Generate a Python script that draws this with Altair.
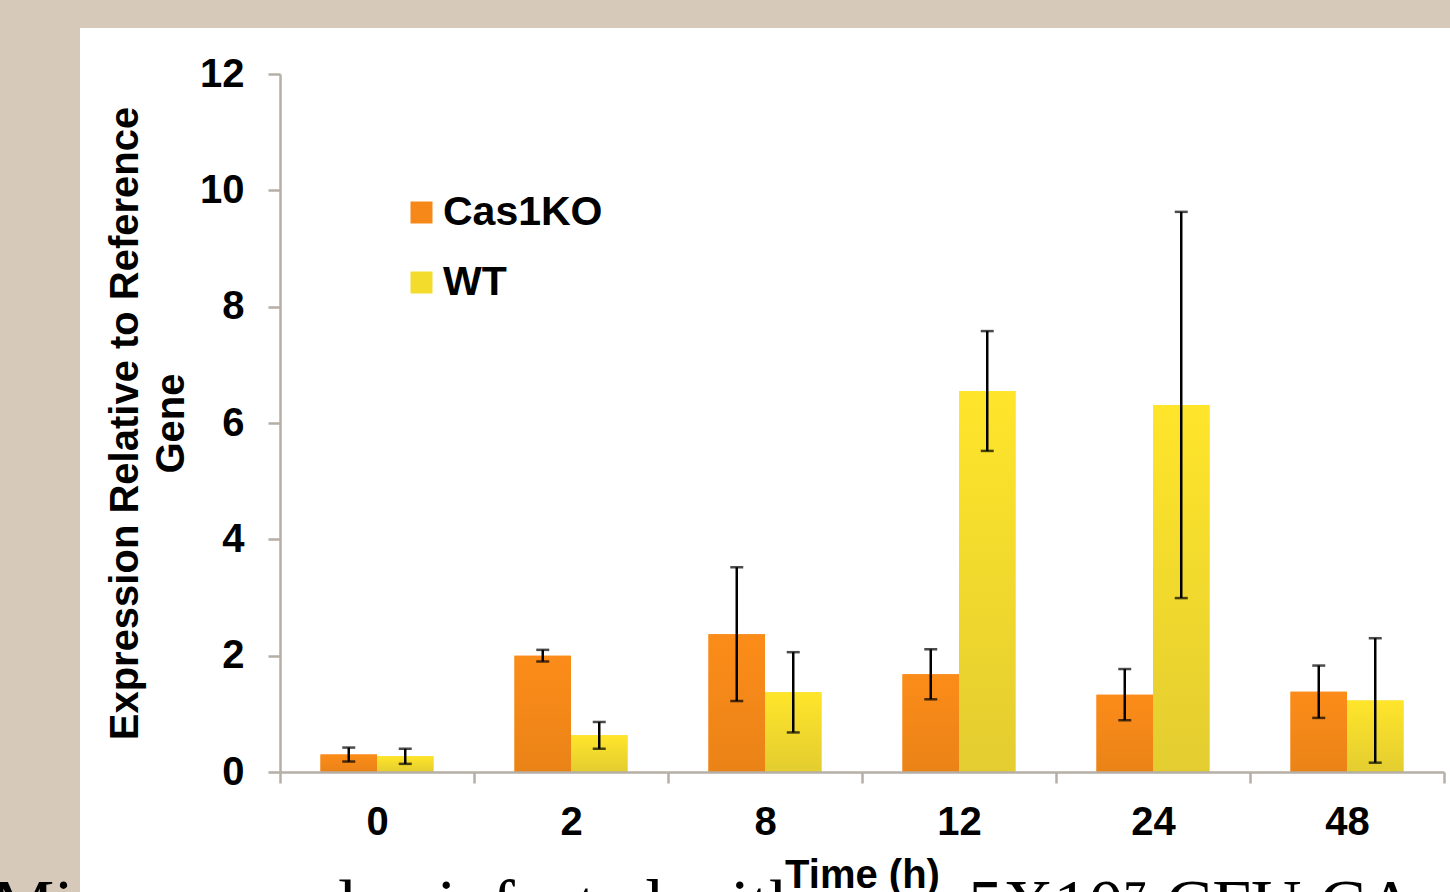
import altair as alt
import pandas as pd

# ---- data ----
times = ["0", "2", "8", "12", "24", "48"]
series = ["Cas1KO", "WT"]
cas1ko_mean = [0.30, 2.00, 2.37, 1.68, 1.33, 1.38]
cas1ko_err = [0.12, 0.10, 1.15, 0.43, 0.44, 0.45]
wt_mean = [0.27, 0.63, 1.37, 6.55, 6.31, 1.23]
wt_err = [0.13, 0.23, 0.69, 1.03, 3.32, 1.07]
y_ticks = [0, 2, 4, 6, 8, 10, 12]
y_title = ["Expression Relative to Reference", "Gene"]
x_title = "Time (h)"
caption_left = ["Mice were also infected with"]
caption_right = ["5X10\u2077 CFU CA"]

rows = []
for s, means, errs in [("Cas1KO", cas1ko_mean, cas1ko_err), ("WT", wt_mean, wt_err)]:
    for t, m, e in zip(times, means, errs):
        rows.append({"time": t, "series": s, "mean": m, "lo": m - e, "hi": m + e})
df = pd.DataFrame(rows)

ORANGE = "#f6881a"
YELLOW = "#f3dc2c"
AXIS_GREY = "#b5afa6"
FONT = "Liberation Sans"

W, H = 1164, 698

x_enc = alt.X(
    "time:N",
    sort=times,
    scale=alt.Scale(paddingInner=0, paddingOuter=0),
    axis=alt.Axis(
        title=x_title,
        labelAngle=0,
        labelFont=FONT,
        labelFontWeight="bold",
        labelFontSize=40,
        labelColor="black",
        labelPadding=19,
        tickBand="extent",
        tickSize=11,
        tickWidth=2.5,
        tickColor=AXIS_GREY,
        domainColor=AXIS_GREY,
        domainWidth=2.5,
        titleFont=FONT,
        titleFontWeight="bold",
        titleFontSize=40,
        titleColor="black",
        titleX=582,
        titleY=115,
        titleAlign="center",
        titleBaseline="alphabetic",
        zindex=1,
    ),
)
xoff_enc = alt.XOffset("series:N", sort=series,
                       scale=alt.Scale(domain=series, paddingInner=0, paddingOuter=0.717))


def y_enc(field):
    return alt.Y(
        field,
        scale=alt.Scale(domain=[0, 12], nice=False),
        axis=alt.Axis(
            values=y_ticks,
            title=y_title,
            grid=False,
            labelFont=FONT,
            labelFontWeight="bold",
            labelFontSize=40,
            labelColor="black",
            labelPadding=24,
            tickSize=12,
            tickWidth=2.5,
            tickColor=AXIS_GREY,
            domainColor=AXIS_GREY,
            domainWidth=2.5,
            titleFont=FONT,
            titleFontWeight="bold",
            titleFontSize=40,
            titleColor="black",
            titleX=-143,
            titleY=349,
            titleAngle=270,
            titleAlign="center",
            titleBaseline="alphabetic",
            titleLineHeight=46,
            zindex=1,
        ),
    )


panel = alt.Chart(pd.DataFrame({"k": [0]})).mark_rect(color="white").encode(
    x=alt.value(-200), x2=alt.value(1170), y=alt.value(-46), y2=alt.value(830)
)

cap_l = alt.Chart(pd.DataFrame({"caption": caption_left})).mark_text(
    align="left", baseline="alphabetic", font="Liberation Serif", fontSize=70, color="black"
).encode(x=alt.value(-288), y=alt.value(854), text="caption:N")
cap_r = alt.Chart(pd.DataFrame({"caption": caption_right})).mark_text(
    align="left", baseline="alphabetic", font="Liberation Serif", fontSize=70, color="black"
).encode(x=alt.value(688), y=alt.value(854), text="caption:N")

bars = alt.Chart(df).mark_bar().encode(
    x=x_enc,
    xOffset=xoff_enc,
    y=y_enc("mean:Q"),
    color=alt.Color(
        "series:N",
        sort=series,
        scale=alt.Scale(domain=series, range=[ORANGE, YELLOW]),
        legend=alt.Legend(
            title=None,
            orient="none",
            legendX=121,
            legendY=118,
            padding=0,
            symbolType="square",
            symbolSize=484,
            symbolStrokeWidth=0,
            symbolOpacity=1,
            labelFont=FONT,
            labelFontWeight="bold",
            labelFontSize=41,
            labelColor="black",
            labelOffset=1,
            rowPadding=28,
            zindex=1,
        ),
    ),
)

grad_orange = alt.Gradient(
    gradient="linear", x1=0, x2=0, y1=0, y2=1,
    stops=[alt.GradientStop(color="#fc8c19", offset=0), alt.GradientStop(color="#ea8317", offset=1)],
)
grad_yellow = alt.Gradient(
    gradient="linear", x1=0, x2=0, y1=0, y2=1,
    stops=[alt.GradientStop(color="#ffe52a", offset=0), alt.GradientStop(color="#e3cd30", offset=1)],
)

bars_o = alt.Chart(df).transform_filter(alt.datum.series == "Cas1KO").mark_bar(
    fill=grad_orange).encode(x=x_enc, xOffset=xoff_enc, y=y_enc("mean:Q"))
bars_y = alt.Chart(df).transform_filter(alt.datum.series == "WT").mark_bar(
    fill=grad_yellow).encode(x=x_enc, xOffset=xoff_enc, y=y_enc("mean:Q"))

rules = alt.Chart(df).mark_rule(color="black", strokeWidth=2.5).encode(
    x=x_enc, xOffset=xoff_enc, y=y_enc("lo:Q"), y2="hi:Q"
)
caps_lo = alt.Chart(df).mark_tick(color="black", size=13, thickness=2.5).encode(
    x=x_enc, xOffset=xoff_enc, y=y_enc("lo:Q")
)
caps_hi = alt.Chart(df).mark_tick(color="black", size=13, thickness=2.5).encode(
    x=x_enc, xOffset=xoff_enc, y=y_enc("hi:Q")
)

chart = alt.layer(panel, cap_l, cap_r, bars, bars_o, bars_y, rules, caps_lo, caps_hi).properties(
    width=W,
    height=H,
    autosize="none",
    padding={"left": 280, "top": 74, "right": 6, "bottom": 120},
    background="#d6c9b9",
).configure_view(stroke=None)

chart.save("out.html", embed_options={"renderer": "svg", "actions": False})
